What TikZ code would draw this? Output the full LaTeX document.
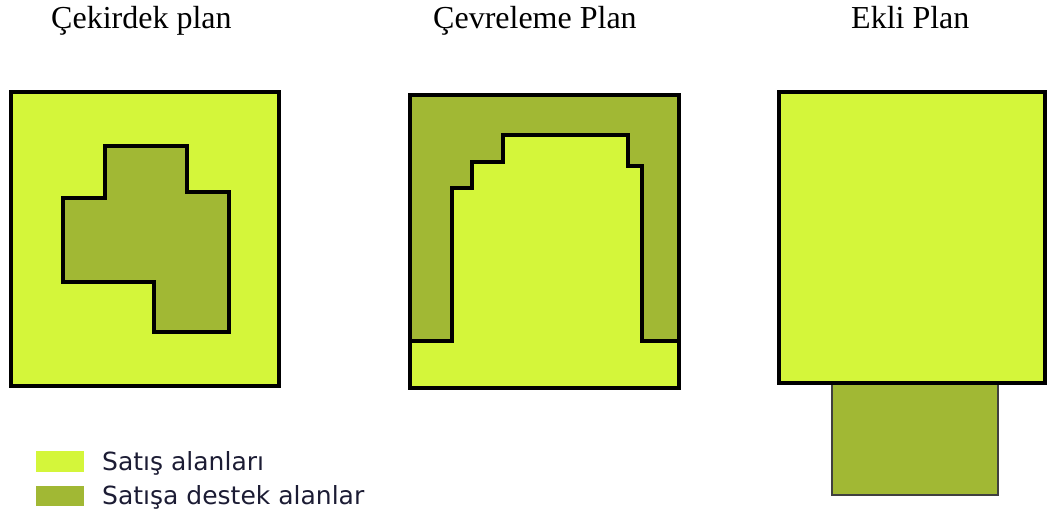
\documentclass[tikz,border=0pt]{standalone}
\usepackage{fontspec}
\setmainfont{Liberation Serif}
\newfontfamily\legendfont{DejaVu Sans}
\definecolor{satis}{RGB}{212,246,58}
\definecolor{destek}{RGB}{161,184,52}
\definecolor{legtext}{RGB}{28,28,52}
\tikzset{
  titletext/.style={anchor=base west,inner sep=0pt,font=\fontsize{32}{38}\selectfont},
  legtxt/.style={anchor=base west,inner sep=0pt,text=legtext,font=\legendfont\fontsize{25}{30}\selectfont},
  planline/.style={draw=black,line width=3.2pt,line join=miter},
  innerline/.style={draw=black,line width=3.2pt,line join=miter},
}
\begin{document}
\begin{tikzpicture}[x=1pt,y=-1pt]
\useasboundingbox (0,0) rectangle (1047,515);
% titles
\node[titletext] (t1) at (51,28) {Çekirdek plan};
\node[titletext] (t2) at (433,28) {Çevreleme Plan};
\node[titletext] (t3) at (851,28) {Ekli Plan};
% plan 1
\fill[satis] (11,92) rectangle (279,386);
\filldraw[fill=destek,innerline] (105,146) -- (187,146) -- (187,192) -- (229,192) -- (229,332) -- (154,332) -- (154,282) -- (63,282) -- (63,198) -- (105,198) -- cycle;
\draw[planline] (11,92) rectangle (279,386);
% plan 2
\fill[destek] (410,95) rectangle (679,388);
\fill[satis] (410,341) -- (452,341) -- (452,188) -- (472,188) -- (472,162) -- (503,162) -- (503,135) -- (628,135) -- (628,166) -- (642,166) -- (642,341) -- (679,341) -- (679,388) -- (410,388) -- cycle;
\draw[innerline] (410,341) -- (452,341) -- (452,188) -- (472,188) -- (472,162) -- (503,162) -- (503,135) -- (628,135) -- (628,166) -- (642,166) -- (642,341) -- (679,341);
\draw[planline] (410,95) rectangle (679,388);
% plan 3
\filldraw[fill=destek,draw=black!75,line width=2.4pt] (832,383) rectangle (998,495);
\filldraw[fill=satis,planline] (779,92) rectangle (1045,383);
% legend
\node[fill=satis,minimum width=48pt,minimum height=21pt,inner sep=0pt] (s1) at (60,461.5) {};
\node[fill=destek,minimum width=48pt,minimum height=20pt,inner sep=0pt] (s2) at (60,496) {};
\node[legtxt] (l1) at (102,470) {Satış alanları};
\node[legtxt] (l2) at (102,504) {Satışa destek alanlar};
\end{tikzpicture}
\end{document}
